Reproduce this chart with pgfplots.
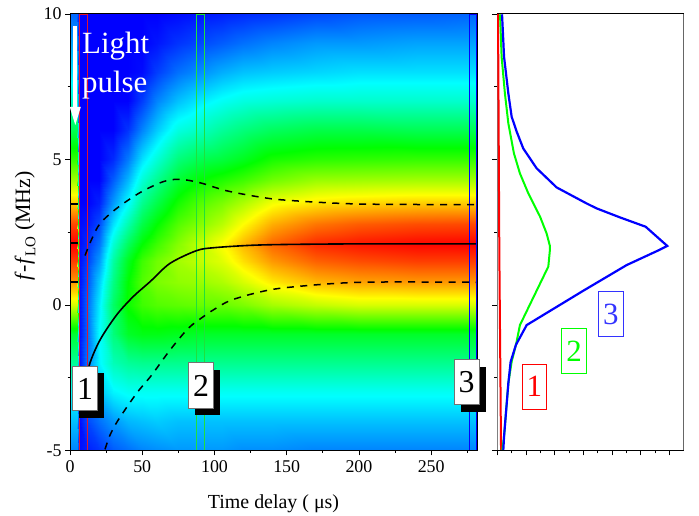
\documentclass[border=0pt]{standalone}
\usepackage{pgfplots}
\pgfplotsset{compat=1.18}
\usepackage{fontspec}
\setmainfont{Liberation Serif}
\definecolor{rectred}{RGB}{225,20,50}
\definecolor{rectgreen}{RGB}{30,225,60}
\newcommand{\fs}[1]{\fontsize{#1}{#1}\selectfont}
\newcommand{\tagbox}[5]{% x1 x2 y1 y2 in px, text
  \fill[black] (#1+6.7,516-#3-6.7) rectangle (#2+6.7,516-#4-6.7);
  \draw[fill=white,draw=black!55,line width=1bp] (#1,516-#3) rectangle (#2,516-#4);
  \node[text=black,inner sep=0] at ({(#1+#2)/2},{516-(#3+#4)/2}) {\fs{32}#5};}
\newcommand{\colbox}[6]{% colour x1 x2 y1 y2 text
  \draw[draw=#1,line width=1bp] (#2,516-#4) rectangle (#3,516-#5);
  \node[text=#1,inner sep=0] at ({(#2+#3)/2},{516-(#4+#5)/2}) {\fs{31}#6};}
\begin{document}
\begin{tikzpicture}[x=1bp,y=1bp]
\useasboundingbox (0,0) rectangle (699,516);
\begin{axis}[
  at={(70bp,65.5bp)},anchor=south west,
  width=407bp,height=436.5bp,scale only axis,
  xmin=0,xmax=281.7,ymin=-5,ymax=10,
  xtick={0,50,100,150,200,250},minor xtick={25,75,125,175,225,275},
  ytick={-5,0,5,10},minor ytick={-2.5,2.5,7.5},
  tick align=outside,xtick pos=left,ytick pos=left,
  major tick length=5bp,minor tick length=2.5bp,
  tick style={black,line width=.8bp},
  axis line style={line width=1bp},
  /pgf/number format/assume math mode=true,
  tick label style={font=\fs{18}},
  xticklabel style={yshift=-2bp},
  colormap={jetc}{rgb255(0cm)=(0,0,255); rgb255(1cm)=(0,255,255); rgb255(2cm)=(0,255,0); rgb255(3cm)=(255,255,0); rgb255(4cm)=(255,0,0)},
  point meta min=0,point meta max=1,
  axis on top=true,
]
\addplot[surf,shader=interp,mesh/cols=18,mesh/ordering=x varies,point meta=explicit] table[x=t,y=f,meta=v,row sep=\\]{
t f v\\
0 -5 .13\\ 4.6 -5 .13\\ 6.0 -5 .01\\ 12 -5 .03\\ 20 -5 .05\\ 30 -5 .09\\ 40 -5 .11\\ 50 -5 .13\\ 60 -5 .14\\ 75 -5 .15\\ 90 -5 .15\\ 105 -5 .15\\ 120 -5 .14\\ 140 -5 .14\\ 170 -5 .13\\ 200 -5 .13\\ 240 -5 .13\\ 282 -5 .13\\
0 -4 .19\\ 4.6 -4 .19\\ 6.0 -4 .01\\ 12 -4 .07\\ 20 -4 .11\\ 30 -4 .15\\ 40 -4 .18\\ 50 -4 .19\\ 60 -4 .20\\ 75 -4 .19\\ 90 -4 .19\\ 105 -4 .19\\ 120 -4 .19\\ 140 -4 .19\\ 170 -4 .19\\ 200 -4 .19\\ 240 -4 .19\\ 282 -4 .19\\
0 -3 .25\\ 4.6 -3 .25\\ 6.0 -3 .01\\ 12 -3 .11\\ 20 -3 .19\\ 30 -3 .24\\ 40 -3 .26\\ 50 -3 .26\\ 60 -3 .26\\ 75 -3 .26\\ 90 -3 .26\\ 105 -3 .26\\ 120 -3 .26\\ 140 -3 .26\\ 170 -3 .26\\ 200 -3 .26\\ 240 -3 .26\\ 282 -3 .26\\
0 -2 .35\\ 4.6 -2 .35\\ 6.0 -2 .01\\ 12 -2 .12\\ 20 -2 .24\\ 30 -2 .32\\ 40 -2 .35\\ 50 -2 .36\\ 60 -2 .36\\ 75 -2 .36\\ 90 -2 .36\\ 105 -2 .36\\ 120 -2 .36\\ 140 -2 .36\\ 170 -2 .36\\ 200 -2 .36\\ 240 -2 .36\\ 282 -2 .36\\
0 -1 .45\\ 4.6 -1 .45\\ 6.0 -1 .01\\ 12 -1 .10\\ 20 -1 .25\\ 30 -1 .38\\ 40 -1 .46\\ 50 -1 .48\\ 60 -1 .48\\ 75 -1 .47\\ 90 -1 .46\\ 105 -1 .46\\ 120 -1 .46\\ 140 -1 .46\\ 170 -1 .46\\ 200 -1 .46\\ 240 -1 .46\\ 282 -1 .46\\
0 0 .71\\ 4.6 0 .71\\ 6.0 0 .01\\ 12 0 .10\\ 20 0 .23\\ 30 0 .40\\ 40 0 .51\\ 50 0 .56\\ 60 0 .58\\ 75 0 .59\\ 90 0 .60\\ 105 0 .60\\ 120 0 .62\\ 140 0 .66\\ 170 0 .69\\ 200 0 .71\\ 240 0 .71\\ 282 0 .71\\
0 .8 .85\\ 4.6 .8 .85\\ 6.0 .8 .01\\ 12 .8 .08\\ 20 .8 .20\\ 30 .8 .37\\ 40 .8 .50\\ 50 .8 .58\\ 60 .8 .62\\ 75 .8 .64\\ 90 .8 .65\\ 105 .8 .67\\ 120 .8 .71\\ 140 .8 .77\\ 170 .8 .82\\ 200 .8 .84\\ 240 .8 .85\\ 282 .8 .85\\
0 1.5 .94\\ 4.6 1.5 .94\\ 6.0 1.5 .01\\ 12 1.5 .06\\ 20 1.5 .15\\ 30 1.5 .34\\ 40 1.5 .47\\ 50 1.5 .56\\ 60 1.5 .61\\ 75 1.5 .66\\ 90 1.5 .69\\ 105 1.5 .72\\ 120 1.5 .78\\ 140 1.5 .85\\ 170 1.5 .905\\ 200 1.5 .925\\ 240 1.5 .94\\ 282 1.5 .94\\
0 2.1 1\\ 4.6 2.1 1\\ 6.0 2.1 .01\\ 12 2.1 .04\\ 20 2.1 .11\\ 30 2.1 .29\\ 40 2.1 .41\\ 50 2.1 .50\\ 60 2.1 .56\\ 75 2.1 .63\\ 90 2.1 .69\\ 105 2.1 .75\\ 120 2.1 .82\\ 140 2.1 .90\\ 170 2.1 .96\\ 200 2.1 .98\\ 240 2.1 .995\\ 282 2.1 1\\
0 2.8 .93\\ 4.6 2.8 .93\\ 6.0 2.8 .01\\ 12 2.8 .02\\ 20 2.8 .07\\ 30 2.8 .22\\ 40 2.8 .33\\ 50 2.8 .43\\ 60 2.8 .50\\ 75 2.8 .58\\ 90 2.8 .63\\ 105 2.8 .68\\ 120 2.8 .75\\ 140 2.8 .83\\ 170 2.8 .885\\ 200 2.8 .91\\ 240 2.8 .925\\ 282 2.8 .93\\
0 3.5 .80\\ 4.6 3.5 .80\\ 6.0 3.5 0\\ 12 3.5 0\\ 20 3.5 .03\\ 30 3.5 .15\\ 40 3.5 .25\\ 50 3.5 .36\\ 60 3.5 .43\\ 75 3.5 .52\\ 90 3.5 .58\\ 105 3.5 .62\\ 120 3.5 .67\\ 140 3.5 .74\\ 170 3.5 .775\\ 200 3.5 .79\\ 240 3.5 .80\\ 282 3.5 .80\\
0 4.3 .66\\ 4.6 4.3 .66\\ 6.0 4.3 0\\ 12 4.3 0\\ 20 4.3 0\\ 30 4.3 .09\\ 40 4.3 .18\\ 50 4.3 .29\\ 60 4.3 .36\\ 75 4.3 .45\\ 90 4.3 .50\\ 105 4.3 .53\\ 120 4.3 .56\\ 140 4.3 .61\\ 170 4.3 .65\\ 200 4.3 .655\\ 240 4.3 .66\\ 282 4.3 .66\\
0 5 .55\\ 4.6 5 .55\\ 6.0 5 0\\ 12 5 0\\ 20 5 0\\ 30 5 .04\\ 40 5 .12\\ 50 5 .22\\ 60 5 .29\\ 75 5 .38\\ 90 5 .42\\ 105 5 .44\\ 120 5 .47\\ 140 5 .52\\ 170 5 .54\\ 200 5 .545\\ 240 5 .55\\ 282 5 .55\\
0 6 .42\\ 4.6 6 .42\\ 6.0 6 0\\ 12 6 0\\ 20 6 0\\ 30 6 0\\ 40 6 .05\\ 50 6 .13\\ 60 6 .20\\ 75 6 .28\\ 90 6 .31\\ 105 6 .35\\ 120 6 .38\\ 140 6 .41\\ 170 6 .43\\ 200 6 .43\\ 240 6 .42\\ 282 6 .42\\
0 7 .30\\ 4.6 7 .30\\ 6.0 7 0\\ 12 7 0\\ 20 7 0\\ 30 7 0\\ 40 7 0\\ 50 7 .06\\ 60 7 .13\\ 75 7 .19\\ 90 7 .23\\ 105 7 .26\\ 120 7 .28\\ 140 7 .29\\ 170 7 .30\\ 200 7 .30\\ 240 7 .30\\ 282 7 .30\\
0 8 .22\\ 4.6 8 .22\\ 6.0 8 0\\ 12 8 0\\ 20 8 0\\ 30 8 0\\ 40 8 0\\ 50 8 .01\\ 60 8 .06\\ 75 8 .11\\ 90 8 .14\\ 105 8 .17\\ 120 8 .19\\ 140 8 .20\\ 170 8 .21\\ 200 8 .22\\ 240 8 .22\\ 282 8 .22\\
0 9 .16\\ 4.6 9 .16\\ 6.0 9 0\\ 12 9 0\\ 20 9 0\\ 30 9 0\\ 40 9 0\\ 50 9 0\\ 60 9 .02\\ 75 9 .05\\ 90 9 .07\\ 105 9 .09\\ 120 9 .11\\ 140 9 .13\\ 170 9 .15\\ 200 9 .15\\ 240 9 .16\\ 282 9 .16\\
0 10 .10\\ 4.6 10 .10\\ 6.0 10 0\\ 12 10 0\\ 20 10 0\\ 30 10 0\\ 40 10 0\\ 50 10 0\\ 60 10 0\\ 75 10 .01\\ 90 10 .02\\ 105 10 .03\\ 120 10 .04\\ 140 10 .05\\ 170 10 .07\\ 200 10 .085\\ 240 10 .09\\ 282 10 .10\\
};
% marker rectangles
\addplot[rectred,line width=1.4bp] coordinates {(6.5,-5)(12,-5)(12,10)(6.5,10)(6.5,-5)};
\addplot[rectgreen,line width=1.4bp] coordinates {(87.7,-5)(93.2,-5)(93.2,10)(87.7,10)(87.7,-5)};
\addplot[blue,line width=1.2bp] coordinates {(276.3,-5)(281.7,-5)(281.7,10)(276.3,10)(276.3,-5)};
% contours
\addplot[black,line width=1.6bp,smooth,tension=.5] coordinates {(10,-3)(13.4,-2.06)(20.8,-1.2)(32.3,-.34)(43.8,.29)(55.4,.8)(69.2,1.43)(87.7,1.87)(100,1.97)(125,2.05)(150,2.08)(200,2.1)(281,2.1)};
\addplot[black,line width=1.5bp,dash pattern=on 7bp off 6.5bp,smooth,tension=.5] coordinates {(10.4,1.7)(15,2.26)(20.8,2.8)(32.3,3.32)(48.4,3.86)(64.6,4.24)(76,4.32)(90,4.2)(108,3.93)(130,3.72)(150,3.6)(200,3.47)(281,3.45)};
\addplot[black,line width=1.5bp,dash pattern=on 7bp off 6.5bp,smooth,tension=.5] coordinates {(24.2,-4.96)(27.7,-4.47)(33.4,-3.95)(46,-3.04)(56.5,-2.41)(69.2,-1.55)(81.9,-.8)(92.3,-.4)(99.2,-.17)(110.7,.15)(130,.43)(150,.6)(200,.78)(281,.78)};
\addplot[black,line width=1.3bp] coordinates {(0,3.47)(5.3,3.47)};
\addplot[black,line width=1.3bp] coordinates {(0,2.13)(5.3,2.13)};
\addplot[black,line width=1.3bp] coordinates {(0,.79)(5.3,.79)};
\end{axis}
\begin{axis}[
  at={(497.3bp,65.5bp)},anchor=south west,
  width=185.7bp,height=436.5bp,scale only axis,
  xmin=0,xmax=12.96,ymin=-5,ymax=10,
  xtick={0,2,4,6,8,10,12},minor xtick={1,3,5,7,9,11},
  xticklabels={},yticklabels={},
  ytick={-5,0,5,10},minor ytick={-2.5,2.5,7.5},
  tick align=outside,xtick pos=left,ytick pos=left,
  major tick length=5bp,minor tick length=3bp,
  tick style={black,line width=.8bp},
  axis line style={line width=1bp},
  clip=false,
]
\draw[black!50,line width=1bp] (rel axis cs:0,0) -- (rel axis cs:0,1);
\draw[black!60,line width=1bp] (rel axis cs:1,0) -- (rel axis cs:1,1);
\addplot[red,line width=2bp] coordinates {(.05,10)(.14,1.89)(.26,-4.98)};
\addplot[green,line width=2bp] coordinates {(.19,9.99)(.30,8.53)(.53,7.27)(.77,6.24)(1.16,5.21)(1.58,4.52)(2.16,3.84)(2.98,3.04)(3.44,2.46)(3.67,2.03)(3.67,1.89)(3.56,1.32)(1.58,-.69)(1.3,-1.37)(1,-1.95)(.77,-2.69)(.47,-4.52)(.35,-4.98)};
\addplot[blue,line width=2.2bp] coordinates {(.33,9.99)(.47,8.53)(.77,7.27)(1,6.47)(1.35,5.96)(1.81,5.38)(2.74,4.70)(4.14,4.04)(6.23,3.49)(6.93,3.32)(8.56,3.01)(10.35,2.69)(11.86,2.03)(11.3,1.89)(9.02,1.37)(6,.49)(2.05,-.69)(1.3,-1.37)(.93,-1.95)(.77,-2.69)(.47,-4.52)(.42,-4.98)};
\end{axis}
% Light pulse
\fill[white] (73.3,516-26) rectangle (77.3,516-107);
\fill[white] (69.8,516-107) -- (80.8,516-107) -- (75.3,516-125) -- cycle;
\node[text=white,anchor=base west,inner sep=0] at (82,516-54) {\fs{31}Light};
\node[text=white,anchor=base west,inner sep=0] at (82,516-93) {\fs{31}pulse};
\tagbox{72.7}{97.3}{366.7}{411}{1}
\tagbox{188.7}{213.3}{363}{408.7}{2}
\tagbox{454}{479}{360}{405}{3}
\colbox{red}{522}{546.7}{364.3}{409.3}{1}
\colbox{green}{561.7}{586.7}{329}{374}{2}
\colbox{blue!80!white}{598.3}{623.3}{292}{337}{3}
\node[anchor=base,inner sep=0] at (273.5,516-509) {\fs{20}Time delay ( μs)};
\node[rotate=90,anchor=base,inner sep=0] at (30,516-226) {\fs{22}\textit{f}-\textit{f}\raisebox{-.25em}{\fs{15}LO} (MHz)};
\end{tikzpicture}
\end{document}
